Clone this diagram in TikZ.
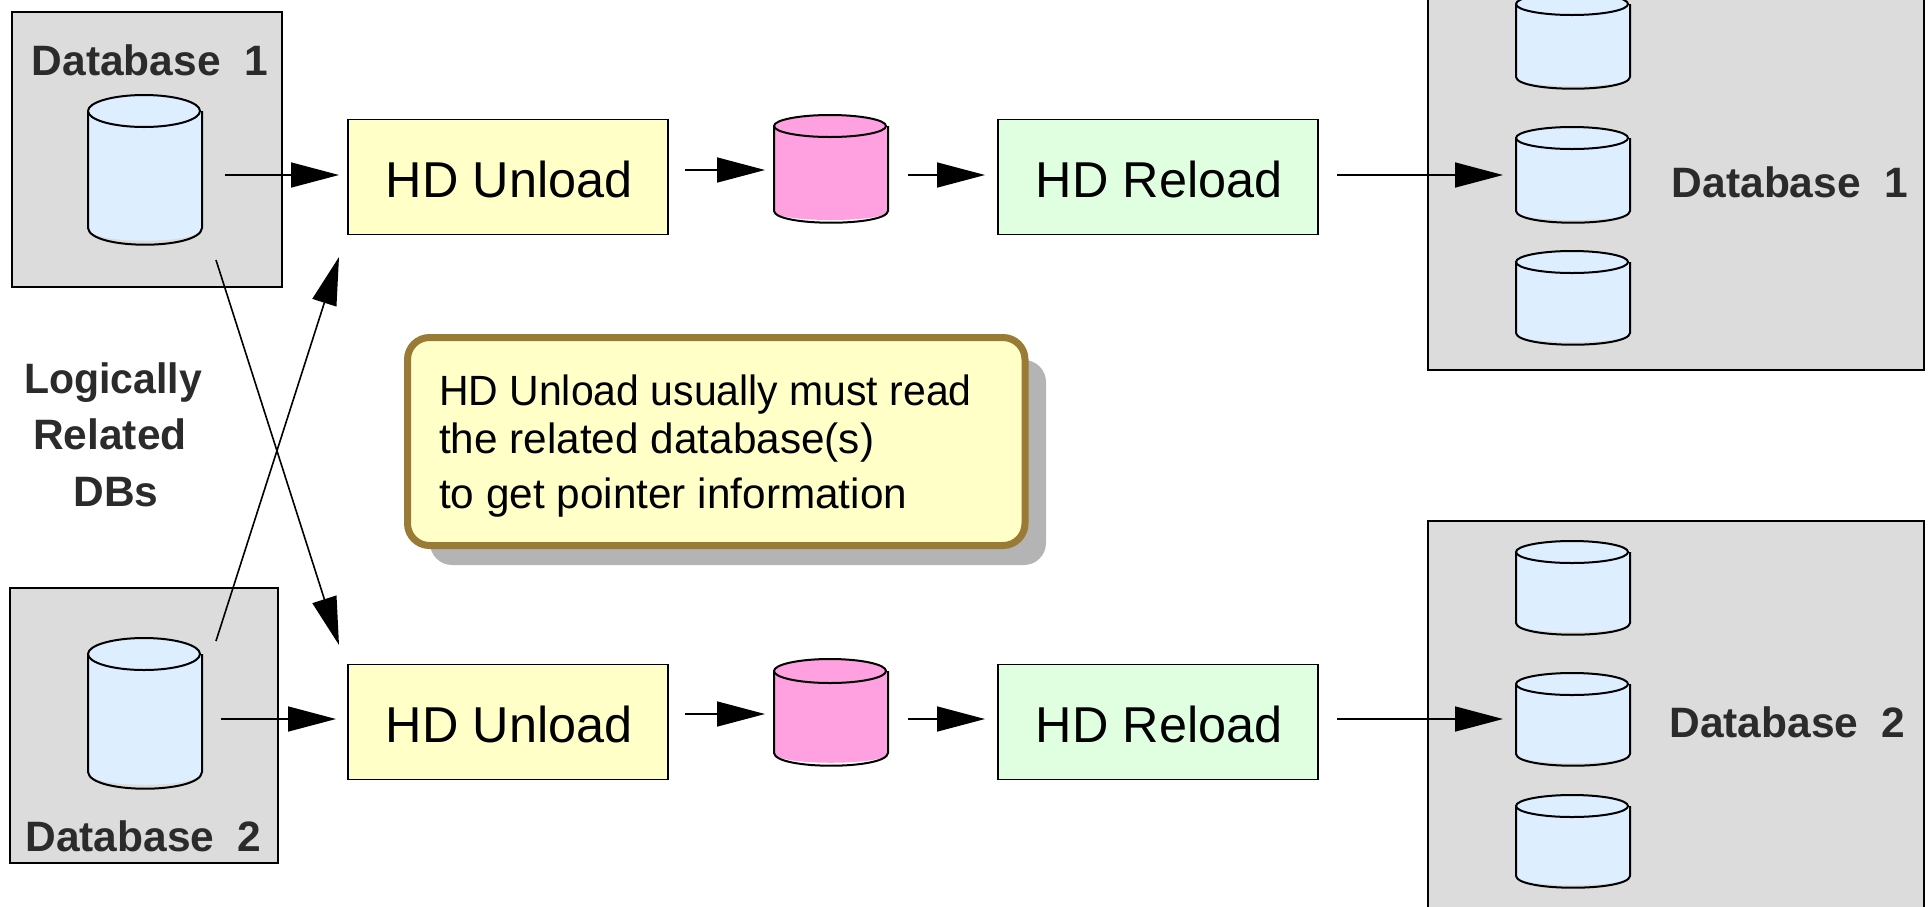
\documentclass[tikz,border=0pt]{standalone}
\usepackage{fontspec}
\setmainfont{Liberation Sans}
\usetikzlibrary{arrows.meta}
\definecolor{panelgray}{HTML}{DCDCDC}
\definecolor{unloadfill}{HTML}{FFFFC8}
\definecolor{reloadfill}{HTML}{E0FFE0}
\definecolor{pinkfill}{HTML}{FFA0E0}
\definecolor{cylfill}{HTML}{DCEEFF}
\definecolor{callborder}{HTML}{9A7B35}
\definecolor{callshadow}{HTML}{B4B4B4}
\definecolor{darktext}{HTML}{2B2B2B}
\tikzset{
  panel/.style={draw=black,line width=2pt,fill=panelgray},
  stepbox/.style={draw=black,line width=1.6pt,minimum width=320pt,minimum height=115pt,inner sep=0pt,text height=41.5pt,text depth=0pt,font=\fontsize{50.4}{50.4}\selectfont},
  flow/.style={line width=1.6pt,-{Triangle[length=48pt,width=25pt]},shorten >=0pt},
  dblabel/.style={inner sep=0pt,text=darktext,font=\fontsize{42.5}{42.5}\selectfont\bfseries},
  calltext/.style={inner sep=0pt,anchor=base west,text=black,font=\fontsize{42.3}{42.3}\selectfont},
  cyl/.style={draw=black,line width=2pt,line join=round}
}
% name, left x, top y, bottom y, ry, fill
\newcommand{\dbcyl}[6]{%
  \pgfmathsetmacro{\cxr}{#2+114}\pgfmathsetmacro{\cxe}{#2+112}%
  \pgfmathsetmacro{\cxm}{#2+56}\pgfmathsetmacro{\cyt}{#3+#5}%
  \pgfmathsetmacro{\cyb}{#4-#5-1}\pgfmathsetmacro{\cxmm}{#2+57}%
  \node[inner sep=0pt,minimum size=0pt] (#1) at (\cxm,{(#3+#4)/2}) {};
  \fill[#6] (#2,\cyt) -- (#2,\cyb) .. controls (#2,{\cyb+#5+1}) and (\cxr,{\cyb+#5+1}) .. (\cxr,\cyb) -- (\cxr,\cyt) -- cycle;
  \draw[cyl] (#2,\cyt) -- (#2,\cyb) .. controls (#2+2,{\cyb+1.33*#5+1}) and (\cxr-2,{\cyb+1.33*#5+1}) .. (\cxr,\cyb) -- (\cxr,\cyt);
  \draw[cyl,fill=#6] (\cxm,\cyt) ellipse [x radius=56,y radius=#5];
}
\begin{document}
\begin{tikzpicture}[x=1pt,y=-1pt]
\useasboundingbox (0,0) rectangle (1929,906);
% panels
\node[panel,minimum width=270pt,minimum height=275pt,inner sep=0pt,anchor=north west] (pa) at (11,11) {};
\node[panel,minimum width=268pt,minimum height=275pt,inner sep=0pt,anchor=north west] (pb) at (9,587) {};
\node[panel,minimum width=496pt,minimum height=391pt,inner sep=0pt,anchor=south west] (pc) at (1427,371) {};
\node[panel,minimum width=496pt,minimum height=410pt,inner sep=0pt,anchor=north west] (pd) at (1427,520) {};
% labels
\node[dblabel] (la) at (150,60) {Database\ \ 1};
\node[dblabel] (lb) at (143.5,836) {Database\ \ 2};
\node[dblabel] (lc) at (1790,182) {Database\ \ 1};
\node[dblabel] (ld) at (1787.5,722) {Database\ \ 2};
\node[dblabel,xscale=.965,transform shape] (l1) at (113,383) {Logically};
\node[dblabel] (l2) at (110,434) {Related};
\node[dblabel] (l3) at (116,492) {DBs};
% cylinders
\dbcyl{ca}{88}{95}{245}{16}{cylfill}
\dbcyl{cb}{88}{638}{789}{16}{cylfill}
\dbcyl{pa1}{774}{115}{223}{11}{pinkfill}
\dbcyl{pa2}{774}{659}{766}{12}{pinkfill}
\dbcyl{r1}{1516}{-7}{89}{11}{cylfill}
\dbcyl{r2}{1516}{127}{223}{11}{cylfill}
\dbcyl{r3}{1516}{251}{345}{11}{cylfill}
\dbcyl{r4}{1516}{541}{635}{11}{cylfill}
\dbcyl{r5}{1516}{673}{766}{11}{cylfill}
\dbcyl{r6}{1516}{795}{888}{11}{cylfill}
% step boxes
\node[stepbox,fill=unloadfill] (u1) at (508,177) {\kern2.4pt HD Unload};
\node[stepbox,fill=reloadfill] (e1) at (1158,177) {\kern2.4pt HD Reload};
\node[stepbox,fill=unloadfill] (u2) at (508,722) {\kern2.4pt HD Unload};
\node[stepbox,fill=reloadfill] (e2) at (1158,722) {\kern2.4pt HD Reload};
% callout
\fill[callshadow,rounded corners=22pt] (430,360) rectangle (1046,565);
\node[draw=callborder,line width=7pt,fill=unloadfill,rounded corners=22pt,minimum width=617.5pt,minimum height=208pt,inner sep=0pt,anchor=north west] (note) at (404,334) {};
\node[calltext,xscale=.968,transform shape] (t1) at (439,405) {HD Unload usually must read};
\node[calltext] (t2) at (439,453) {the related database(s)};
\node[calltext] (t3) at (439,508) {to get pointer information};
% connector ends
\coordinate (s1) at (225,175); \coordinate (s1e) at (339,175);
\coordinate (s2) at (221,719); \coordinate (s2e) at (336,719);
\coordinate (x1) at (216,260); \coordinate (x1e) at (339,645);
\coordinate (x2) at (216,641); \coordinate (x2e) at (339,257);
\coordinate (a1) at (685,170); \coordinate (a1e) at (765,170);
\coordinate (a2) at (908,175); \coordinate (a2e) at (985,175);
\coordinate (a3) at (1337,175); \coordinate (a3e) at (1503,175);
\coordinate (b1) at (685,714); \coordinate (b1e) at (765,714);
\coordinate (b2) at (908,719); \coordinate (b2e) at (985,719);
\coordinate (b3) at (1337,719); \coordinate (b3e) at (1503,719);
\draw[flow] (s1) -- (s1e);
\draw[flow] (s2) -- (s2e);
\draw[flow] (x1) -- (x1e);
\draw[flow] (x2) -- (x2e);
\draw[flow] (a1) -- (a1e);
\draw[flow] (a2) -- (a2e);
\draw[flow] (a3) -- (a3e);
\draw[flow] (b1) -- (b1e);
\draw[flow] (b2) -- (b2e);
\draw[flow] (b3) -- (b3e);
\end{tikzpicture}
\end{document}
